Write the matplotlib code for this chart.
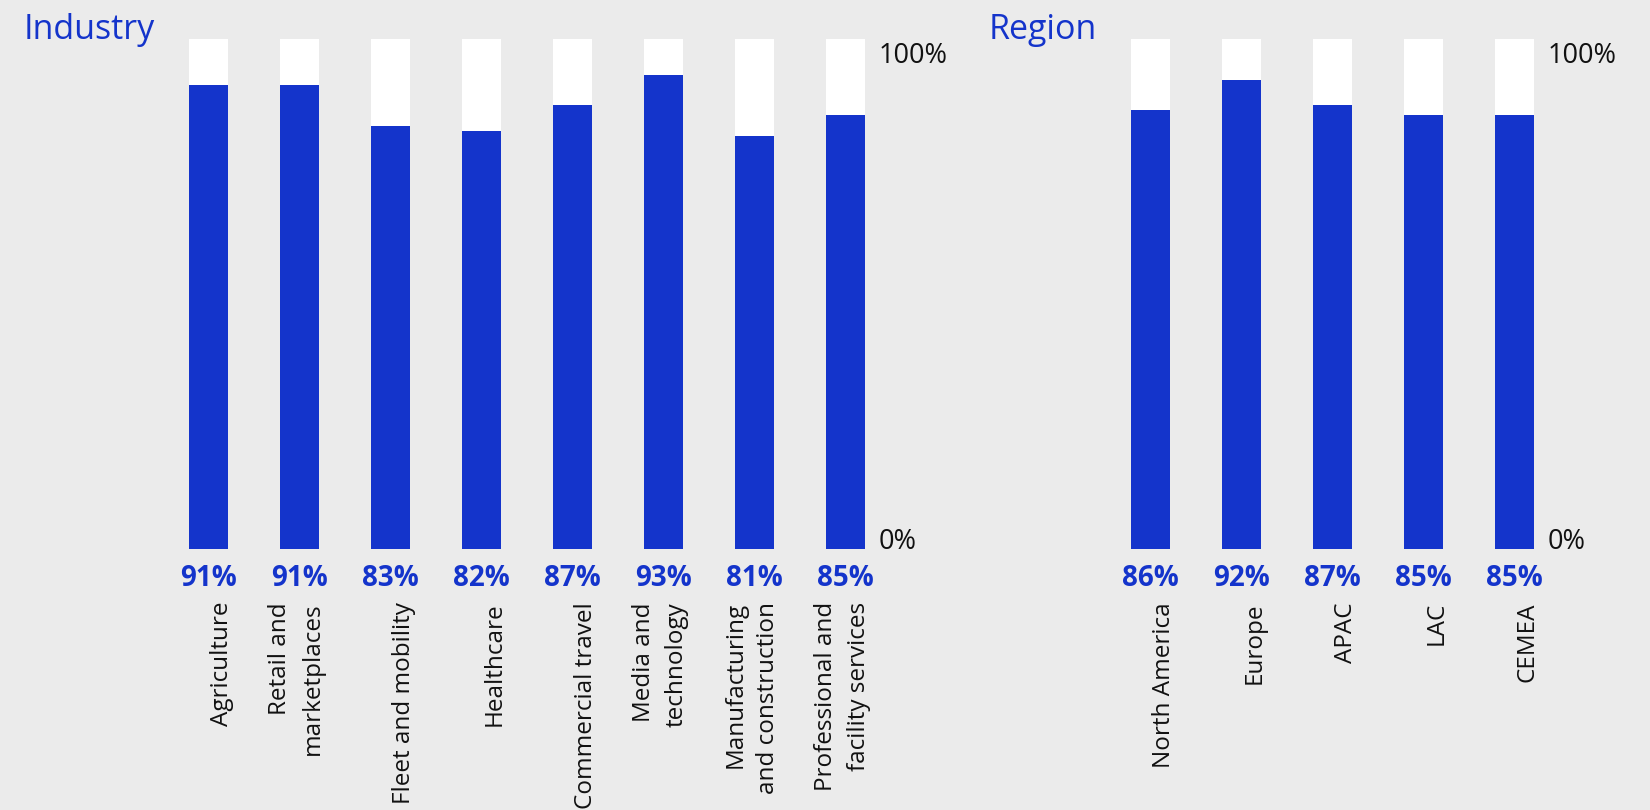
import matplotlib
matplotlib.use("Agg")
import matplotlib.pyplot as plt
import numpy as np

# dati
industry = ["Agriculture", "Retail and\nmarketplaces", "Fleet and mobility",
            "Healthcare", "Commercial travel", "Media and\ntechnology",
            "Manufacturing\nand construction", "Professional and\nfacility services"]
industry_pct = [91, 91, 83, 82, 87, 93, 81, 85]

region = ["North America", "Europe", "APAC", "LAC", "CEMEA"]
region_pct = [86, 92, 87, 85, 85]

BLUE = "#1434cb"
BG = "#ebebeb"

plt.rcParams['font.family'] = ['Open Sans', 'DejaVu Sans']

W, H = 1650, 810
fig = plt.figure(figsize=(W / 100, H / 100), dpi=100)
fig.patch.set_facecolor(BG)

# posizioni in pixel: base a y=549, 100% a y=39, passo barre 91 px
y0, y100 = 549, 39
step = 91


def panel(left_px, labels, vals, title, title_x):
    n = len(labels)
    ax = fig.add_axes([left_px / W, (H - y0) / H, n * step / W, (y0 - y100) / H])
    ax.set_facecolor("none")
    x = np.arange(n)
    ax.bar(x, [100] * n, width=39 / step, color="white", zorder=1)
    ax.bar(x, vals, width=39 / step, color=BLUE, zorder=2)
    ax.set_xlim(-0.5, n - 0.5)
    ax.set_ylim(0, 100)
    ax.axis("off")

    for i, (lab, v) in enumerate(zip(labels, vals)):
        ax.annotate(f"{v}%", xy=(i, 0), xytext=(0, -37), textcoords="offset pixels",
                    ha="center", va="baseline", fontsize=20, fontweight="bold",
                    color=BLUE, annotation_clip=False)
        ax.annotate(lab, xy=(i, 0), xytext=(25, -53), textcoords="offset pixels",
                    ha="right", va="top", rotation=90, multialignment="right",
                    fontsize=17.5, linespacing=1.45, color="#111111",
                    annotation_clip=False)

    ax.annotate("100%", xy=(n - 1, 100), xytext=(33, -3), textcoords="offset pixels",
                ha="left", va="top", fontsize=19.5, color="#111111", annotation_clip=False)
    ax.annotate("0%", xy=(n - 1, 0), xytext=(33, 0), textcoords="offset pixels",
                ha="left", va="baseline", fontsize=19.5, color="#111111", annotation_clip=False)

    fig.text(title_x / W, (H - 39) / H, title, ha="left", va="baseline",
             fontsize=24.5, color=BLUE)
    return ax


panel(208.5 - step / 2, industry, industry_pct, "Industry", 24)
panel(1150.5 - step / 2, region, region_pct, "Region", 989)

fig.savefig("out.png", dpi=100, facecolor=BG)
